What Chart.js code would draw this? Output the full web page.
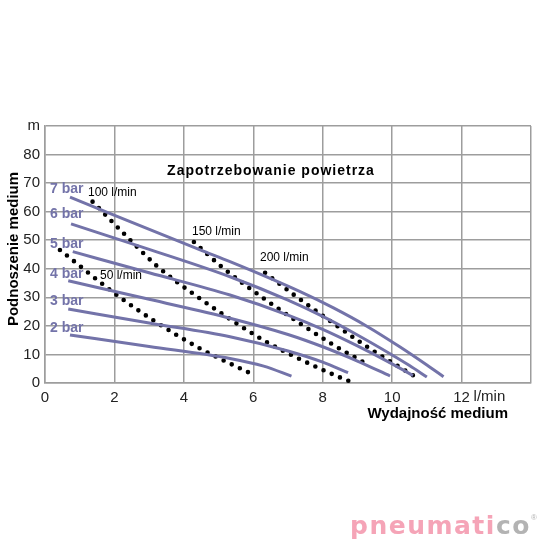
<!DOCTYPE html>
<html>
<head>
<meta charset="utf-8">
<script src="https://cdn.jsdelivr.net/npm/chart.js@4.4.1/dist/chart.umd.min.js"></script>
<style>
  html, body { margin: 0; padding: 0; background: #fff; }
  #wrap { width: 540px; height: 540px; }
</style>
</head>
<body>
<div id="wrap"><canvas id="pumpChart" width="540" height="540"></canvas></div>
<script>
// Krzywe pompy: [wydajność l/min, podnoszenie m]
const bar7 = [[0.72, 65.1], [4.47, 46.6], [5.33, 42.5], [7.35, 32.0], [8.31, 26.3], [9.27, 19.9], [10.23, 12.6], [11.0, 6.3], [11.48, 2.2]];
const bar6 = [[0.75, 55.7], [3.0, 46.8], [5.33, 37.2], [7.0, 29.0], [8.0, 23.3], [9.0, 16.8], [10.0, 9.8], [10.5, 6.1], [11.0, 2.1]];
const bar5 = [[0.8, 46.0], [3.0, 38.6], [5.33, 30.8], [7.0, 23.8], [8.0, 18.8], [9.0, 13.0], [10.0, 6.7], [10.6, 2.6]];
const bar4 = [[0.67, 35.8], [3.0, 29.3], [5.33, 22.7], [7.0, 17.0], [8.0, 12.7], [9.0, 7.7], [9.94, 2.45]];
const bar3 = [[0.67, 25.9], [3.0, 21.0], [5.33, 16.2], [7.0, 11.2], [8.0, 7.3], [8.73, 3.6]];
const bar2 = [[0.72, 16.8], [3.0, 12.8], [5.33, 8.6], [6.3, 5.9], [7.1, 2.4]];

// Zapotrzebowanie powietrza (linie kropkowane)
const air50 = [[0.43, 46.6], [2.07, 30.8], [3.14, 21.8], [4.45, 12.2], [5.95, 3.2]];
const air100 = [[1.37, 63.5], [2.29, 52.1], [3.25, 40.7], [4.32, 30.8], [6.32, 14.8], [7.25, 8.9], [8.45, 2.2], [8.76, 0.7]];
const air150 = [[4.29, 49.4], [5.09, 40.7], [6.36, 29.1], [8.31, 13.3], [9.03, 8.3], [9.36, 6.0]];
const air200 = [[6.34, 38.6], [7.18, 30.8], [8.26, 21.3], [9.34, 12.2], [10.61, 2.6]];

const barNames = ['7 bar', '6 bar', '5 bar', '4 bar', '3 bar', '2 bar'];
const airNames = ['50 l/min', '100 l/min', '150 l/min', '200 l/min'];

const xTickLabels = ['0', '2', '4', '6', '8', '10', '12', ''];
const yTickLabels = ['0', '10', '20', '30', '40', '50', '60', '70', '80', 'm'];

const lineColor = '#7373a9';
const gridColor = '#9d9d9d';
const fontName = '"Liberation Sans", Arial, sans-serif';

function toPoints(arr) {
    return arr.map(p => ({ x: p[0], y: p[1] }));
}

let datasets = [];

[bar7, bar6, bar5, bar4, bar3, bar2].forEach((curve, i) => {
    datasets.push({
        label: barNames[i],
        data: toPoints(curve),
        borderColor: lineColor,
        borderWidth: 3,
        pointRadius: 0,
        fill: false,
        cubicInterpolationMode: 'monotone'
    });
});

// kropki = kreska o zerowej długości z zaokrąglonym końcem
[air50, air100, air150, air200].forEach((curve, i) => {
    datasets.push({
        label: airNames[i],
        data: toPoints(curve),
        borderColor: '#000',
        borderWidth: 4.6,
        borderCapStyle: 'round',
        borderDash: [0, 9],
        pointRadius: 0,
        fill: false,
        cubicInterpolationMode: 'monotone'
    });
});

// Napisy: tytuł, opisy osi, etykiety krzywych, logo
const textPlugin = {
    id: 'texts',
    afterDraw(chart) {
        const ctx = chart.ctx;
        const xs = chart.scales.x;
        ctx.save();
        ctx.textBaseline = 'middle';

        ctx.fillStyle = '#000';
        ctx.font = 'bold 14px ' + fontName;
        ctx.letterSpacing = '1px';
        ctx.textAlign = 'center';
        ctx.fillText('Zapotrzebowanie powietrza', 271, 171);
        ctx.letterSpacing = '0px';

        ctx.font = 'bold 15px ' + fontName;
        ctx.textAlign = 'right';
        ctx.fillText('Wydajność medium', 508, 414);

        ctx.font = '15px ' + fontName;
        ctx.fillStyle = '#222';
        ctx.textAlign = 'left';
        ctx.fillText('l/min', xs.getPixelForValue(12) + 12, 397);

        ctx.save();
        ctx.translate(14, 249);
        ctx.rotate(-Math.PI / 2);
        ctx.textAlign = 'center';
        ctx.fillStyle = '#000';
        ctx.font = 'bold 15px ' + fontName;
        ctx.fillText('Podnoszenie medium', 0, 0);
        ctx.restore();

        // etykiety ciśnienia
        const barY = [189, 214, 244, 274, 301, 328];
        ctx.font = 'bold 14px ' + fontName;
        ctx.fillStyle = lineColor;
        ctx.textAlign = 'left';
        barNames.forEach((name, i) => ctx.fillText(name, 50, barY[i]));

        // etykiety przepływu powietrza
        const airPos = [[100, 276], [88, 193], [192, 232], [260, 258]];
        ctx.font = '12px ' + fontName;
        ctx.fillStyle = '#000';
        airNames.forEach((name, i) => ctx.fillText(name, airPos[i][0], airPos[i][1]));

        // logo
        ctx.font = 'bold 25px "DejaVu Sans", sans-serif';
        ctx.letterSpacing = '1.5px';
        ctx.textAlign = 'left';
        ctx.fillStyle = '#f5a4b7';
        ctx.fillText('pneumati', 350, 527);
        const w = ctx.measureText('pneumati').width;
        ctx.fillStyle = '#b3b3b3';
        ctx.fillText('co', 350 + w, 527);
        const w2 = ctx.measureText('co').width;
        ctx.letterSpacing = '0px';
        ctx.font = '8px ' + fontName;
        ctx.fillText('®', 350 + w + w2, 518);

        ctx.restore();
    }
};

const ctx = document.getElementById('pumpChart').getContext('2d');
new Chart(ctx, {
    type: 'line',
    data: { datasets: datasets },
    options: {
        responsive: false,
        animation: false,
        layout: { padding: { left: 0, right: 9, top: 126, bottom: 0 } },
        plugins: {
            legend: { display: false },
            title: { display: false },
            tooltip: { enabled: false }
        },
        scales: {
            x: {
                type: 'linear',
                min: 0,
                max: 14,
                afterFit: (scale) => { scale.height = 157; },
                ticks: {
                    stepSize: 2,
                    padding: 6,
                    color: '#222',
                    font: { family: fontName, size: 15 },
                    maxRotation: 0,
                    callback: (value) => xTickLabels[value / 2]
                },
                grid: { color: gridColor, lineWidth: 1.5, drawTicks: false },
                border: { color: gridColor, width: 1.5 }
            },
            y: {
                type: 'linear',
                min: 0,
                max: 90,
                afterFit: (scale) => { scale.width = 45; },
                ticks: {
                    stepSize: 10,
                    padding: 5,
                    color: '#222',
                    font: { family: fontName, size: 15 },
                    callback: (value) => yTickLabels[value / 10]
                },
                grid: { color: gridColor, lineWidth: 1.5, drawTicks: false },
                border: { color: gridColor, width: 1.5 }
            }
        }
    },
    plugins: [textPlugin]
});
</script>
</body>
</html>
